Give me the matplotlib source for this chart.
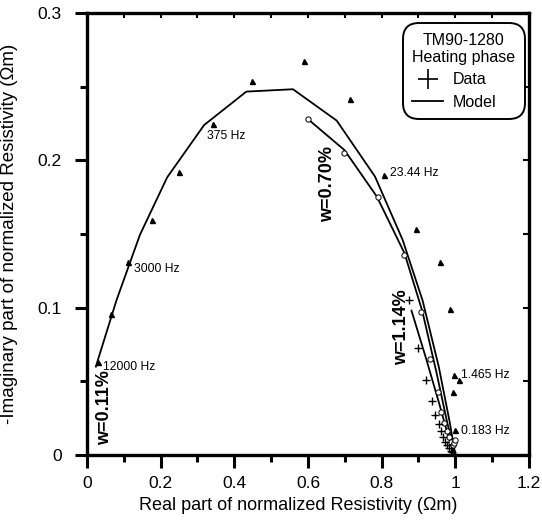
import matplotlib
matplotlib.use("Agg")
import matplotlib.pyplot as plt
from matplotlib.lines import Line2D
from matplotlib.ticker import MultipleLocator, FuncFormatter

plt.rcParams['font.family'] = ['Liberation Sans', 'DejaVu Sans']

# w=0.11% : measured points (triangles)
tri_re = [0.030, 0.065, 0.112, 0.176, 0.250, 0.342, 0.449, 0.588, 0.715,
          0.807, 0.892, 0.959, 0.986, 0.996, 1.009, 0.993, 1.000]
tri_im = [0.063, 0.096, 0.131, 0.1595, 0.192, 0.225, 0.254, 0.2677, 0.2415,
          0.190, 0.1537, 0.1312, 0.099, 0.054, 0.051, 0.043, 0.017]
# w=0.11% : model
mod1_re = [0.024, 0.080, 0.1436, 0.2177, 0.318, 0.4327, 0.5592, 0.678, 0.782,
           0.857, 0.911, 0.955, 0.985, 1.000]
mod1_im = [0.060, 0.105, 0.1494, 0.1885, 0.224, 0.2467, 0.2483, 0.227, 0.189,
           0.146, 0.105, 0.060, 0.022, 0.000]

# w=0.70% : measured points (circles)
circ_re = [0.600, 0.697, 0.789, 0.860, 0.907, 0.932, 0.952, 0.961, 0.970,
           0.977, 0.983, 0.988, 0.993, 0.997, 1.000]
circ_im = [0.228, 0.205, 0.175, 0.136, 0.097, 0.065, 0.043, 0.029, 0.022,
           0.016, 0.012, 0.009, 0.007, 0.008, 0.010]
# w=0.70% : model
mod2_re = [0.600, 0.699, 0.787, 0.862, 0.910, 0.948, 0.978, 1.000]
mod2_im = [0.228, 0.207, 0.1754, 0.137, 0.098, 0.057, 0.022, 0.000]

# w=1.14% : measured points (crosses)
plus_re = [0.873, 0.900, 0.921, 0.936, 0.946, 0.955, 0.961, 0.967, 0.972,
           0.977, 0.982, 0.987, 0.992, 0.996]
plus_im = [0.105, 0.0725, 0.051, 0.037, 0.027, 0.021, 0.0165, 0.012, 0.009,
           0.0065, 0.0045, 0.003, 0.002, 0.001]
# w=1.14% : model
mod3_re = [0.881, 0.920, 0.955, 0.983, 1.000]
mod3_im = [0.098, 0.066, 0.036, 0.011, 0.000]

freq_labels = ["12000 Hz", "3000 Hz", "375 Hz", "23.44 Hz", "1.465 Hz", "0.183 Hz"]
freq_x = [0.044, 0.128, 0.327, 0.824, 1.015, 1.015]
freq_y = [0.060, 0.126, 0.2168, 0.1917, 0.0543, 0.0165]

fig = plt.figure(figsize=(5.42, 5.23), dpi=100)
ax = fig.add_axes([0.1605, 0.130, 0.8155, 0.845])

ax.plot(mod1_re, mod1_im, color='black', lw=1.3)
ax.plot(mod2_re, mod2_im, color='black', lw=1.3)
ax.plot(mod3_re, mod3_im, color='black', lw=1.3)
ax.plot(tri_re, tri_im, ls='none', marker='^', ms=3.6, color='black')
ax.plot(circ_re, circ_im, ls='none', marker='o', ms=3.8, mfc='white', mec='black', mew=0.7)
ax.plot(plus_re, plus_im, ls='none', marker='+', ms=6, mew=1.0, color='black')

for lab, x, y in zip(freq_labels, freq_x, freq_y):
    ax.text(x, y, lab, fontsize=8.7, va='center', ha='left')

ax.text(0.049, 0.032, "w=0.11%", rotation=90, fontsize=13, fontweight='bold',
        ha='center', va='center')
ax.text(0.652, 0.184, "w=0.70%", rotation=90, fontsize=13, fontweight='bold',
        ha='center', va='center')
ax.text(0.854, 0.087, "w=1.14%", rotation=90, fontsize=13, fontweight='bold',
        ha='center', va='center')

ax.set_xlim(0, 1.2)
ax.set_ylim(0, 0.3)
fmt = FuncFormatter(lambda v, p: "%g" % round(v, 2))
ax.xaxis.set_major_locator(MultipleLocator(0.2))
ax.xaxis.set_minor_locator(MultipleLocator(0.1))
ax.yaxis.set_major_locator(MultipleLocator(0.1))
ax.yaxis.set_minor_locator(MultipleLocator(0.05))
ax.xaxis.set_major_formatter(fmt)
ax.yaxis.set_major_formatter(fmt)
ax.tick_params(which='major', direction='out', length=9, width=2.2, labelsize=12.5)
ax.tick_params(axis='x', which='major', pad=6)
ax.tick_params(axis='y', which='major', pad=9)
ax.tick_params(which='minor', direction='out', length=5, width=2.2)
for s in ax.spines.values():
    s.set_linewidth(2.4)

# inward ticks on top and right
top = ax.secondary_xaxis('top')
top.xaxis.set_major_locator(MultipleLocator(0.1))
top.tick_params(direction='in', length=3.5, width=1.5, labeltop=False)
right = ax.secondary_yaxis('right')
right.yaxis.set_major_locator(MultipleLocator(0.05))
right.tick_params(direction='in', length=4, width=1.5, labelright=False)

ax.set_xlabel("Real part of normalized Resistivity (\u03a9m)", fontsize=13)
ax.set_ylabel("-Imaginary part of normalized Resistivity (\u03a9m)", fontsize=13.5)
ax.xaxis.set_label_coords(0.477, -0.095)
ax.yaxis.set_label_coords(-0.155, 0.5)

handles = [Line2D([], [], ls='none', marker='+', ms=14, mew=1.2, color='black'),
           Line2D([], [], color='black', lw=1.3)]
leg = ax.legend(handles, ["Data", "Model"], title="TM90-1280\nHeating phase",
                loc='upper right', bbox_to_anchor=(0.991, 0.977), fontsize=11.5,
                title_fontsize=11.5, frameon=True, fancybox=True, framealpha=1,
                edgecolor='black', handlelength=1.95, handletextpad=0.6,
                borderpad=0.1, labelspacing=0.45, alignment='left')
leg.get_frame().set_linewidth(1.4)
leg.get_frame().set_boxstyle('round', pad=0.5, rounding_size=1.0)
leg.get_title().set_multialignment('center')

fig.savefig("out.png", dpi=100)
